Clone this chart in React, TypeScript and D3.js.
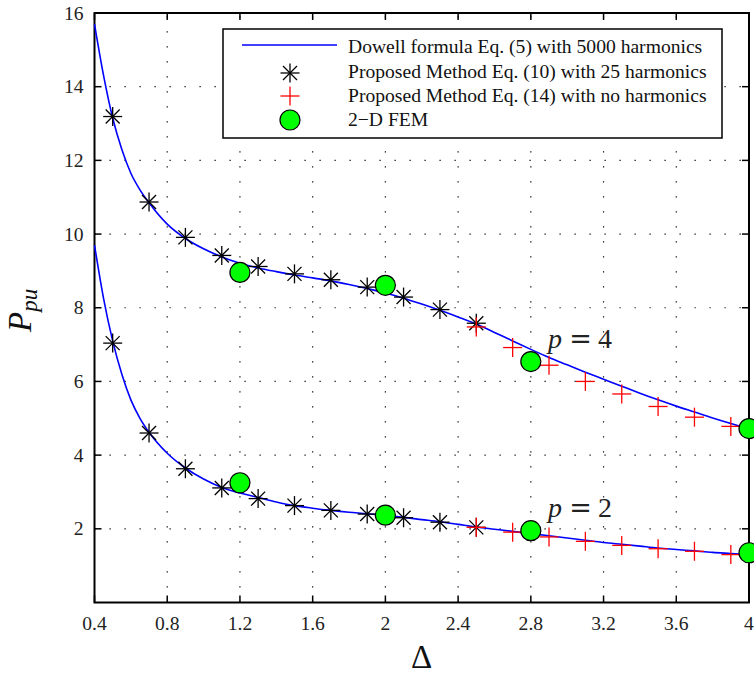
import React from "react";
import * as d3 from "d3";

const curveX = [0.4, 0.45, 0.5, 0.55, 0.6, 0.65, 0.7, 0.8, 0.9, 1.0, 1.1, 1.2, 1.3, 1.4, 1.5, 1.6, 1.7, 1.8, 1.9, 2.0, 2.1, 2.2, 2.3, 2.4, 2.5, 2.6, 2.7, 2.8, 2.9, 3.0, 3.1, 3.2, 3.3, 3.4, 3.5, 3.6, 3.7, 3.8, 3.9, 4.0];
const dowellP4 = [15.7, 14.3, 13.15, 12.3, 11.65, 11.2, 10.85, 10.27, 9.88, 9.6, 9.38, 9.21, 9.08, 8.98, 8.89, 8.81, 8.73, 8.63, 8.52, 8.4, 8.26, 8.1, 7.93, 7.75, 7.56, 7.33, 7.1, 6.87, 6.65, 6.45, 6.25, 6.06, 5.87, 5.68, 5.5, 5.33, 5.17, 5.01, 4.86, 4.72];
const dowellP2 = [9.7, 8.25, 7.1, 6.2, 5.5, 5.0, 4.62, 4.05, 3.65, 3.35, 3.12, 2.97, 2.85, 2.73, 2.63, 2.56, 2.5, 2.45, 2.41, 2.36, 2.31, 2.25, 2.19, 2.12, 2.05, 1.99, 1.93, 1.87, 1.81, 1.75, 1.69, 1.63, 1.58, 1.53, 1.48, 1.44, 1.4, 1.36, 1.33, 1.3];

const starX = [0.5, 0.7, 0.9, 1.1, 1.3, 1.5, 1.7, 1.9, 2.1, 2.3, 2.5];
const starP4 = [13.19, 10.87, 9.91, 9.42, 9.12, 8.92, 8.76, 8.56, 8.29, 7.95, 7.58];
const starP2 = [7.04, 4.6, 3.63, 3.11, 2.82, 2.63, 2.5, 2.4, 2.3, 2.18, 2.04];

const crossX = [2.5, 2.7, 2.9, 3.1, 3.3, 3.5, 3.7, 3.9];
const crossP4 = [7.48, 6.92, 6.44, 6.0, 5.66, 5.32, 5.03, 4.78];
const crossP2 = [2.04, 1.91, 1.78, 1.66, 1.55, 1.46, 1.39, 1.3];

const femX = [1.2, 2.0, 2.8, 4.0];
const femP4 = [8.96, 8.61, 6.54, 4.72];
const femP2 = [3.25, 2.37, 1.95, 1.35];

const xTicks = [0.4, 0.8, 1.2, 1.6, 2, 2.4, 2.8, 3.2, 3.6, 4];
const yTicks = [2, 4, 6, 8, 10, 12, 14, 16];
const legendLabels = [
  "Dowell formula Eq. (5) with 5000 harmonics",
  "Proposed Method Eq. (10) with 25 harmonics",
  "Proposed Method Eq. (14) with no harmonics",
  "2\u2212D FEM",
];

const W = 754;
const H = 674;
const L = 94.5, R = 749, T = 13, B = 602.5;
const tf = { fontFamily: "Liberation Serif" } as React.CSSProperties;
const tfd = { fontFamily: "DejaVu Serif" } as React.CSSProperties;

function Star({ cx, cy }: { cx: number; cy: number }) {
  const r = 9.5, d = 7;
  return (
    <g stroke="#000" strokeWidth={1.3}>
      <line x1={cx - r} y1={cy} x2={cx + r} y2={cy} />
      <line x1={cx} y1={cy - r} x2={cx} y2={cy + r} />
      <line x1={cx - d} y1={cy - d} x2={cx + d} y2={cy + d} />
      <line x1={cx - d} y1={cy + d} x2={cx + d} y2={cy - d} />
    </g>
  );
}

function Cross({ cx, cy }: { cx: number; cy: number }) {
  const r = 9.5;
  return (
    <g stroke="#ff0000" strokeWidth={1.3}>
      <line x1={cx - r} y1={cy} x2={cx + r} y2={cy} />
      <line x1={cx} y1={cy - r} x2={cx} y2={cy + r} />
    </g>
  );
}

function Fem({ cx, cy }: { cx: number; cy: number }) {
  return <circle cx={cx} cy={cy} r={10} fill="#00ff00" stroke="#000" strokeWidth={1.2} />;
}

export default function App() {
  const x = d3.scaleLinear().domain([0.4, 4]).range([L, R]);
  const y = d3.scaleLinear().domain([0, 16]).range([B, T]);
  const line = d3
    .line<number>()
    .x((_, i) => x(curveX[i]))
    .curve(d3.curveMonotoneX);
  const pathP4 = line.y((v) => y(v))(dowellP4) || "";
  const pathP2 = line.y((v) => y(v))(dowellP2) || "";

  const legRows = [53.3, 77.7, 102, 126.3];
  const legMarkY = [45, 73, 96, 120];

  return (
    <svg width={W} height={H} style={{ position: "absolute", left: 0, top: 0, background: "#fff" }}>
      <rect x={0} y={0} width={W} height={H} fill="#fff" />
      {/* grid */}
      <g stroke="#000" strokeWidth={1.2} strokeDasharray="1.2,13.8">
        {xTicks.slice(1, -1).map((t) => (
          <line key={"gx" + t} x1={x(t)} x2={x(t)} y1={B} y2={T} />
        ))}
        {yTicks.slice(0, -1).map((t) => (
          <line key={"gy" + t} x1={L} x2={R} y1={y(t)} y2={y(t)} />
        ))}
      </g>
      {/* ticks */}
      <g stroke="#000" strokeWidth={1.5}>
        {xTicks.map((t) => (
          <g key={"tx" + t}>
            <line x1={x(t)} x2={x(t)} y1={B} y2={B - 7} />
            <line x1={x(t)} x2={x(t)} y1={T} y2={T + 7} />
          </g>
        ))}
        {yTicks.map((t) => (
          <g key={"ty" + t}>
            <line x1={L} x2={L + 7} y1={y(t)} y2={y(t)} />
            <line x1={R} x2={R - 7} y1={y(t)} y2={y(t)} />
          </g>
        ))}
      </g>
      {/* axes box */}
      <rect x={L} y={T} width={R - L} height={B - T} fill="none" stroke="#000" strokeWidth={2} />
      {/* tick labels */}
      <g fontSize={19.6} fill="#222">
        {xTicks.map((t) => (
          <text key={"lx" + t} x={x(t)} y={630} textAnchor="middle" style={tf}>
            {String(t)}
          </text>
        ))}
        {yTicks.map((t) => (
          <text key={"ly" + t} x={83.5} y={y(t) + 6.6} textAnchor="end" style={tf}>
            {String(t)}
          </text>
        ))}
      </g>
      {/* curves */}
      <path d={pathP4} fill="none" stroke="#0000ff" strokeWidth={1.6} />
      <path d={pathP2} fill="none" stroke="#0000ff" strokeWidth={1.6} />
      {/* stars */}
      {starX.map((v, i) => (
        <Star key={"s4" + i} cx={x(v)} cy={y(starP4[i])} />
      ))}
      {starX.map((v, i) => (
        <Star key={"s2" + i} cx={x(v)} cy={y(starP2[i])} />
      ))}
      {/* crosses */}
      {crossX.map((v, i) => (
        <Cross key={"c4" + i} cx={x(v)} cy={y(crossP4[i])} />
      ))}
      {crossX.map((v, i) => (
        <Cross key={"c2" + i} cx={x(v)} cy={y(crossP2[i])} />
      ))}
      {/* FEM */}
      {femX.map((v, i) => (
        <Fem key={"f4" + i} cx={x(v)} cy={y(femP4[i])} />
      ))}
      {femX.map((v, i) => (
        <Fem key={"f2" + i} cx={x(v)} cy={y(femP2[i])} />
      ))}
      {/* annotations */}
      {[
        { yb: 347.5, lbl: "4" },
        { yb: 517.3, lbl: "2" },
      ].map((a) => (
        <g key={"ann" + a.lbl} fontSize={28} fill="#222">
          <text x={548} y={a.yb} fontStyle="italic" style={tf}>p</text>
          <text x={580.5} y={a.yb} textAnchor="middle" fontSize={27} style={tfd}>=</text>
          <text x={598} y={a.yb} style={tf}>{a.lbl}</text>
        </g>
      ))}
      {/* legend */}
      <rect x={223} y={29} width={499} height={109} fill="#fff" stroke="#000" strokeWidth={1.5} />
      <line x1={242} x2={337} y1={legMarkY[0]} y2={legMarkY[0]} stroke="#0000ff" strokeWidth={1.6} />
      <Star cx={290} cy={legMarkY[1]} />
      <Cross cx={290} cy={legMarkY[2]} />
      <Fem cx={290} cy={legMarkY[3]} />
      <g fontSize={19.6} fill="#111">
        {legendLabels.map((s, i) => (
          <text key={"leg" + i} x={348} y={legRows[i]} style={tf}>
            {s}
          </text>
        ))}
      </g>
      {/* axis labels */}
      <text x={421.5} y={668} textAnchor="middle" fontSize={33} fill="#111" style={tf}>{"\u0394"}</text>
      <g transform="translate(31,332) rotate(-90)" fill="#111">
        <text x={0} y={0} fontSize={33} fontStyle="italic" style={tf}>
          P
          <tspan fontSize={23} dy={6}>pu</tspan>
        </text>
      </g>
    </svg>
  );
}
